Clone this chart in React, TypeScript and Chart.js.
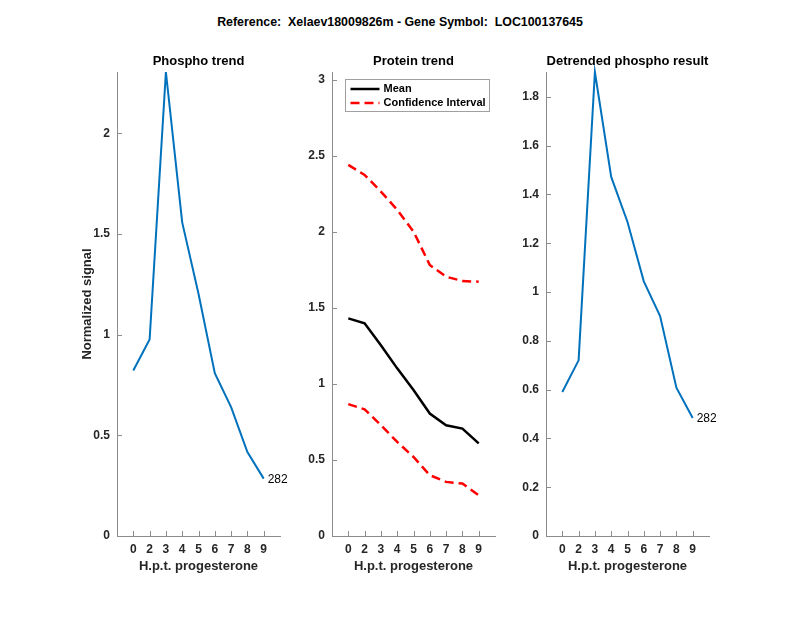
import React, { useEffect, useRef } from "react";
import { Chart, registerables } from "chart.js";

Chart.register(...registerables);

const xLabels = ["0", "2", "3", "4", "5", "6", "7", "8", "9"];
const phospho = [0.822, 0.976, 2.305, 1.558, 1.203, 0.809, 0.64, 0.417, 0.285];
const proteinMean = [1.432, 1.399, 1.255, 1.103, 0.96, 0.806, 0.729, 0.707, 0.609];
const proteinUpper = [2.442, 2.376, 2.266, 2.146, 2.003, 1.783, 1.706, 1.678, 1.673];
const proteinLower = [0.868, 0.833, 0.729, 0.619, 0.52, 0.4, 0.356, 0.345, 0.268];
const detrended = [0.59, 0.72, 1.902, 1.472, 1.287, 1.044, 0.902, 0.608, 0.484];
const yTicks1 = [0, 0.5, 1, 1.5, 2];
const yTicks2 = [0, 0.5, 1, 1.5, 2, 2.5, 3];
const yTicks3 = [0, 0.2, 0.4, 0.6, 0.8, 1, 1.2, 1.4, 1.6, 1.8];
const peptideLabel = "282";
const supTitle = "Reference:  Xelaev18009826m - Gene Symbol:  LOC100137645";

const FONT = "'Liberation Sans', Arial, Helvetica, sans-serif";
const BLUE = "#0072BD";
const AXIS = "#8c8c8c";
const TEXT = "#262626";

type PanelCfg = {
  axisLeft: number;
  title: string;
  yMax: number;
  yTicks: number[];
  datasets: any[];
  yTitle?: string;
  endLabel?: boolean;
  legend?: boolean;
};

const W = 800;
const H = 618;
const AX_W = 163;
const AX_TOP = 72;
const AX_BOTTOM = 536;

const decoPlugin = {
  id: "deco",
  afterDraw(chart: any) {
    const cfg: PanelCfg = chart.options.plugins.deco.cfg;
    const ctx = chart.ctx;
    const area = chart.chartArea;
    const xs = chart.scales.x;
    const ys = chart.scales.y;
    ctx.save();
    // inward ticks
    ctx.strokeStyle = AXIS;
    ctx.lineWidth = 1;
    ctx.beginPath();
    for (let i = 1; i <= xLabels.length; i++) {
      const px = Math.round(xs.getPixelForValue(i)) + 0.5;
      ctx.moveTo(px, area.bottom);
      ctx.lineTo(px, area.bottom - 5);
    }
    for (const t of cfg.yTicks) {
      const py = Math.round(ys.getPixelForValue(t)) + 0.5;
      ctx.moveTo(area.left, py);
      ctx.lineTo(area.left + 5, py);
    }
    ctx.stroke();
    // title
    ctx.fillStyle = "#000";
    ctx.font = `bold 13px ${FONT}`;
    ctx.textAlign = "center";
    ctx.textBaseline = "middle";
    ctx.fillText(cfg.title, (area.left + area.right) / 2, 61);
    // x title
    ctx.fillStyle = TEXT;
    ctx.fillText("H.p.t. progesterone", (area.left + area.right) / 2, 566);
    // y title
    if (cfg.yTitle) {
      ctx.save();
      ctx.translate(area.left - 30, (area.top + area.bottom) / 2);
      ctx.rotate(-Math.PI / 2);
      ctx.fillText(cfg.yTitle, 0, 0);
      ctx.restore();
    }
    // end label
    if (cfg.endLabel) {
      const ds = chart.data.datasets[0].data;
      const last = ds[ds.length - 1];
      ctx.font = `12px ${FONT}`;
      ctx.textAlign = "left";
      ctx.fillStyle = "#000";
      ctx.fillText(peptideLabel, xs.getPixelForValue(last.x) + 4, ys.getPixelForValue(last.y) + 1);
    }
    // legend
    if (cfg.legend) {
      const bx = area.left + 13.5;
      const by = 79.5;
      const bw = 144;
      const bh = 32;
      ctx.fillStyle = "#fff";
      ctx.fillRect(bx, by, bw, bh);
      ctx.strokeStyle = "#a0a0a0";
      ctx.lineWidth = 1;
      ctx.strokeRect(bx, by, bw, bh);
      ctx.lineWidth = 2.5;
      ctx.strokeStyle = "#000";
      ctx.beginPath();
      ctx.moveTo(bx + 5, 89);
      ctx.lineTo(bx + 34, 89);
      ctx.stroke();
      ctx.strokeStyle = "#ff0000";
      ctx.setLineDash([9, 5]);
      ctx.beginPath();
      ctx.moveTo(bx + 5, 103);
      ctx.lineTo(bx + 34, 103);
      ctx.stroke();
      ctx.setLineDash([]);
      ctx.fillStyle = "#000";
      ctx.font = `bold 11px ${FONT}`;
      ctx.textAlign = "left";
      ctx.textBaseline = "middle";
      const ds = chart.data.datasets;
      ctx.fillText(ds[0].label, bx + 38, 89);
      ctx.fillText(ds[1].label, bx + 38, 103);
    }
    ctx.restore();
  },
};

function toPts(vals: number[]) {
  return vals.map((v, i) => ({ x: i + 1, y: v }));
}

function Panel({ cfg }: { cfg: PanelCfg }) {
  const ref = useRef<HTMLCanvasElement | null>(null);
  useEffect(() => {
    if (!ref.current) return;
    const chart = new Chart(ref.current, {
      type: "line",
      data: { datasets: cfg.datasets },
      plugins: [decoPlugin],
      options: {
        animation: false,
        responsive: false,
        devicePixelRatio: 1,
        layout: {
          padding: {
            left: cfg.axisLeft - 60,
            right: W - cfg.axisLeft - AX_W,
            top: AX_TOP,
            bottom: H - AX_BOTTOM - 50,
          },
        },
        elements: { point: { radius: 0 }, line: { tension: 0 } },
        plugins: {
          legend: { display: false },
          title: { display: false },
          tooltip: { enabled: false },
          deco: { cfg },
        } as any,
        scales: {
          x: {
            type: "linear",
            min: 0,
            max: xLabels.length + 1,
            afterBuildTicks: (s: any) => {
              s.ticks = xLabels.map((_, i) => ({ value: i + 1 }));
            },
            afterFit: (s: any) => {
              s.height = 50;
            },
            grid: { display: false, drawTicks: false },
            border: { display: true, color: AXIS, width: 1 },
            ticks: {
              autoSkip: false,
              maxRotation: 0,
              padding: 6,
              color: TEXT,
              font: { family: FONT, size: 12, weight: "bold" },
              callback: (v: any) => xLabels[Math.round(v) - 1] ?? "",
            },
          },
          y: {
            type: "linear",
            min: 0,
            max: cfg.yMax,
            afterBuildTicks: (s: any) => {
              s.ticks = cfg.yTicks.map((v) => ({ value: v }));
            },
            afterFit: (s: any) => {
              s.width = 60;
            },
            grid: { display: false, drawTicks: false },
            border: { display: true, color: AXIS, width: 1 },
            ticks: {
              padding: 7,
              color: TEXT,
              font: { family: FONT, size: 12, weight: "bold" },
              callback: (v: any) => String(v),
            },
          },
        },
      } as any,
    });
    return () => chart.destroy();
  }, []);
  return (
    <canvas
      ref={ref}
      width={W}
      height={H}
      style={{ position: "absolute", left: 0, top: 0, width: W, height: H }}
    />
  );
}

const lineDs = (label: string, vals: number[], color: string, width: number, dash?: number[]) => ({
  label,
  data: toPts(vals),
  borderColor: color,
  borderWidth: width,
  borderDash: dash ?? [],
  pointRadius: 0,
  fill: false,
  clip: false,
});

const panels: PanelCfg[] = [
  {
    axisLeft: 117,
    title: "Phospho trend",
    yMax: 2.305,
    yTicks: yTicks1,
    yTitle: "Normalized signal",
    endLabel: true,
    datasets: [lineDs("Phospho", phospho, BLUE, 2)],
  },
  {
    axisLeft: 332,
    title: "Protein trend",
    yMax: 3.053,
    yTicks: yTicks2,
    legend: true,
    datasets: [
      lineDs("Mean", proteinMean, "#000", 2.5),
      lineDs("Confidence Interval", proteinUpper, "#ff0000", 2.5, [9, 5]),
      lineDs("Confidence Interval lower", proteinLower, "#ff0000", 2.5, [9, 5]),
    ],
  },
  {
    axisLeft: 546,
    title: "Detrended phospho result",
    yMax: 1.902,
    yTicks: yTicks3,
    endLabel: true,
    datasets: [lineDs("Detrended", detrended, BLUE, 2)],
  },
];

export default function App() {
  return (
    <div style={{ position: "absolute", left: 0, top: 0, width: W, height: H, background: "#fff" }}>
      <div
        style={{
          position: "absolute",
          left: 0,
          width: W,
          top: 13,
          textAlign: "center",
          fontFamily: FONT,
          fontWeight: "bold",
          fontSize: 12.4,
          lineHeight: "18px",
          color: "#000",
          whiteSpace: "pre",
        }}
      >
        {supTitle}
      </div>
      {panels.map((p, i) => (
        <Panel key={i} cfg={p} />
      ))}
    </div>
  );
}
